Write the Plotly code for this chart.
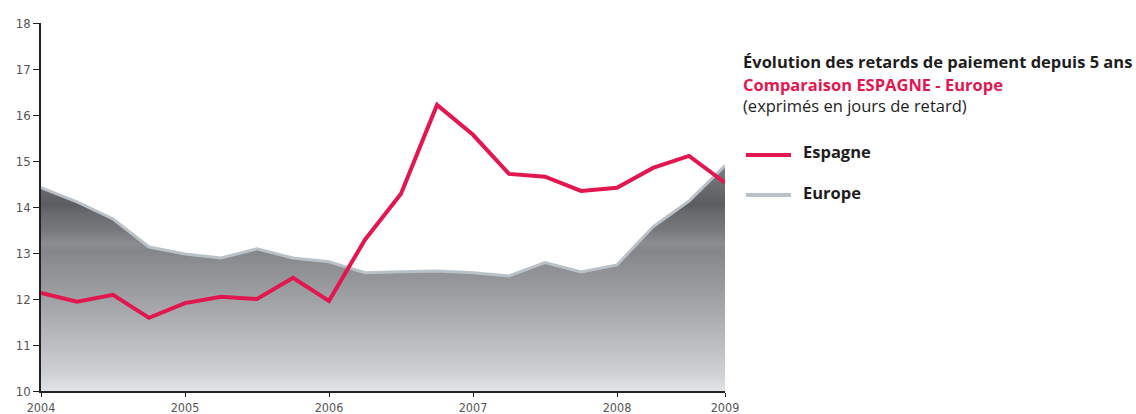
import plotly.graph_objects as go

# Quarterly observations, 2004 -> 2009 (20 points, evenly spaced)
periods = list(range(20))
espagne = [12.13, 11.94, 12.09, 11.59, 11.91, 12.05, 12.00, 12.46, 11.96, 13.29,
           14.29, 16.22, 15.57, 14.72, 14.66, 14.35, 14.42, 14.85, 15.11, 14.53]
europe = [14.42, 14.11, 13.74, 13.13, 12.98, 12.89, 13.09, 12.89, 12.81, 12.57,
          12.59, 12.61, 12.57, 12.50, 12.79, 12.59, 12.74, 13.57, 14.13, 14.90]
year_ticks = [0, 4, 8, 12, 16, 19]
year_labels = ["2004", "2005", "2006", "2007", "2008", "2009"]
y_ticks = [10, 11, 12, 13, 14, 15, 16, 17, 18]

RED = "#e2174f"
EU_LINE = "#b9c2c8"
TICK_FONT = dict(family="Liberation Sans Narrow, DejaVu Sans Condensed, Roboto", size=13, color="#555555")
XTICK_FONT = dict(family="Liberation Sans Narrow, DejaVu Sans Condensed, Roboto", size=12.5, color="#555555")

fill_scale = [
    [0.0, "#e2e5e8"], [0.07, "#d0d3d6"], [0.18, "#bfc1c4"], [0.31, "#acaeb1"],
    [0.44, "#9a9c9f"], [0.55, "#8c8e91"], [0.61, "#838588"], [0.64, "#8b8d90"],
    [0.70, "#76787b"], [0.77, "#6a6b6e"], [0.81, "#5c5d60"], [0.87, "#66676a"],
    [0.94, "#76787b"], [1.0, "#808285"],
]

fig = go.Figure()
fig.add_trace(go.Scatter(
    x=periods, y=europe, mode="lines", name="Europe",
    line=dict(color=EU_LINE, width=3),
    fill="tozeroy",
    fillgradient=dict(type="vertical", colorscale=fill_scale, start=10, stop=15),
    hoverinfo="skip", showlegend=False,
))
fig.add_trace(go.Scatter(
    x=periods, y=espagne, mode="lines", name="Espagne",
    line=dict(color=RED, width=4), showlegend=False,
))

fig.update_xaxes(
    range=[0, 19], tickvals=year_ticks, ticktext=year_labels,
    showline=True, linecolor="#222222", linewidth=1.5,
    ticks="outside", ticklen=4, tickcolor="#222222",
    showgrid=False, zeroline=False, tickfont=XTICK_FONT, automargin=False,
)
fig.update_yaxes(
    range=[10, 18], tickvals=y_ticks,
    showline=True, linecolor="#222222", linewidth=1.5,
    ticks="outside", ticklen=6, tickcolor="#222222",
    showgrid=False, zeroline=False, tickfont=TICK_FONT, automargin=False,
)

TXT = "Open Sans, Noto Sans, DejaVu Sans"
FS = 16.5
annotations = [
    dict(text="<b>Évolution des retards de paiement depuis 5 ans</b>", x=741, y=62,
         font=dict(family=TXT, size=FS, color="#1e1e1e")),
    dict(text="<b>Comparaison ESPAGNE - Europe</b>", x=741, y=84,
         font=dict(family=TXT, size=FS, color=RED)),
    dict(text="(exprimés en jours de retard)", x=741, y=105,
         font=dict(family=TXT, size=FS, color="#1e1e1e")),
    dict(text="<b>Espagne</b>", x=801, y=152,
         font=dict(family=TXT, size=FS, color="#1e1e1e")),
    dict(text="<b>Europe</b>", x=801, y=192,
         font=dict(family=TXT, size=FS, color="#1e1e1e")),
]
W, H = 1136, 414
L, R, T, B = 41, 411, 23, 23
pw, ph = W - L - R, H - T - B
def px2paper(x, y):
    return (x - L) / pw, (H - B - y) / ph

ann = []
for a in annotations:
    ax, ay = px2paper(a["x"], a["y"])
    ann.append(dict(text=a["text"], x=ax, y=ay, xref="paper", yref="paper",
                    xanchor="left", yanchor="middle", showarrow=False, font=a["font"]))

shapes = []
for (yy, col) in [(155, RED), (195, EU_LINE)]:
    x0, y0 = px2paper(746, yy)
    x1, _ = px2paper(791, yy)
    shapes.append(dict(type="line", xref="paper", yref="paper", x0=x0, x1=x1, y0=y0, y1=y0,
                       line=dict(color=col, width=4)))

fig.update_layout(
    width=W, height=H,
    margin=dict(l=L, r=R, t=T, b=B, autoexpand=False),
    paper_bgcolor="white", plot_bgcolor="white",
    annotations=ann, shapes=shapes,
)
fig.write_html("out.html")
